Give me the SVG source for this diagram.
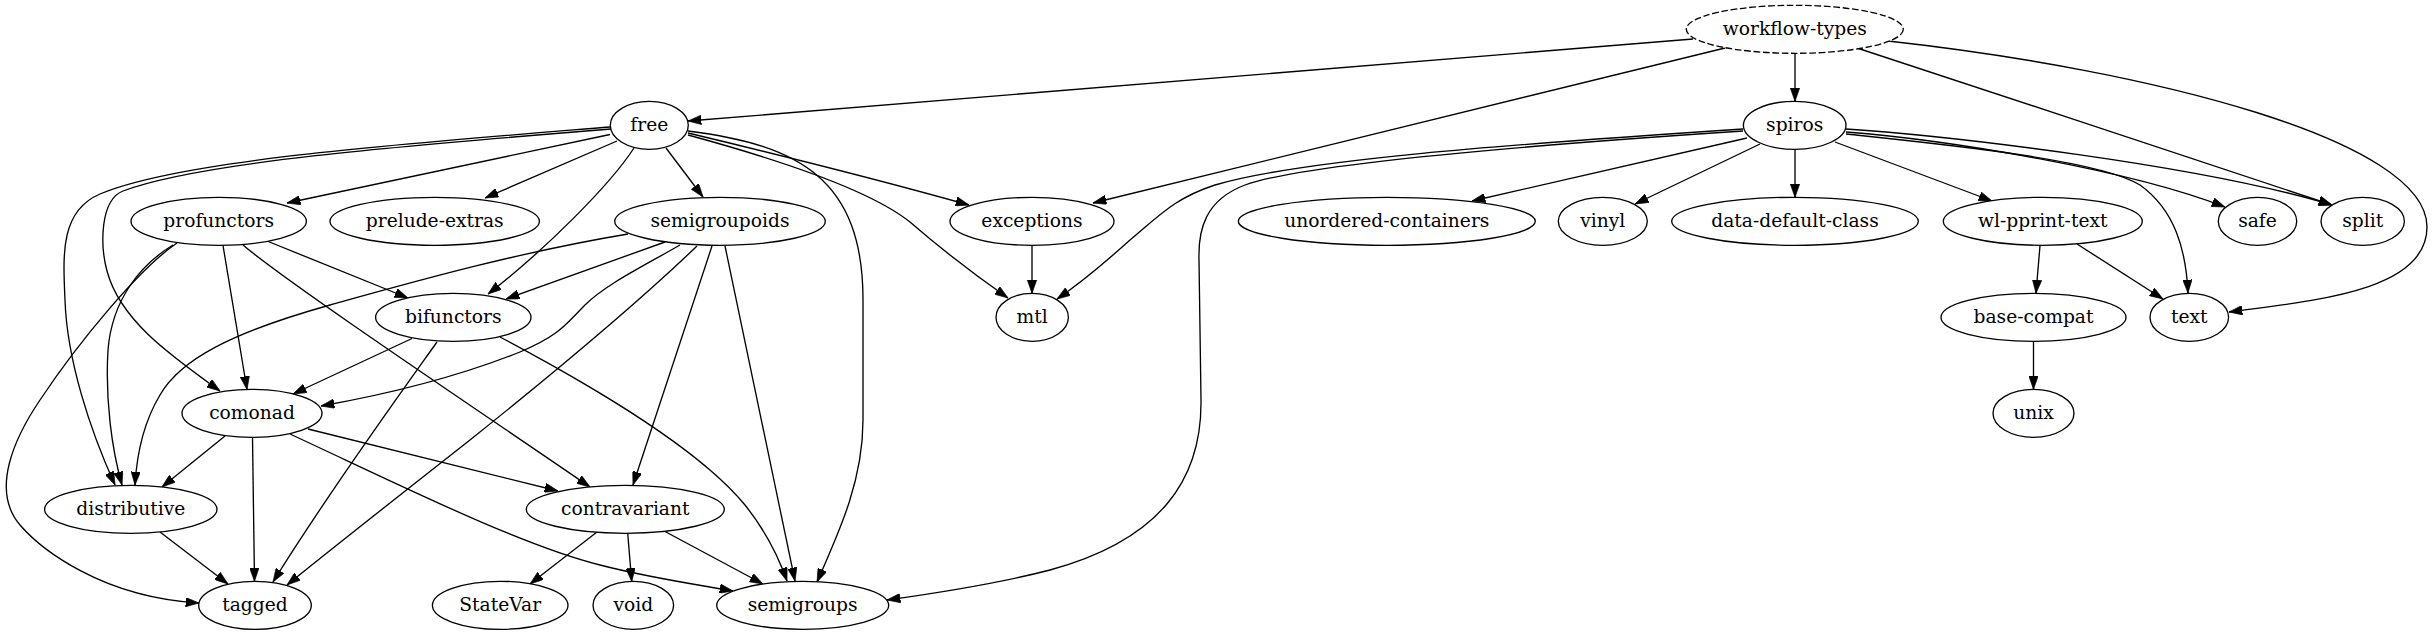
<svg xmlns="http://www.w3.org/2000/svg" width="2432" height="635" viewBox="0 0 2432 635">
<style>
.node ellipse{fill:#fff;stroke:#000;stroke-width:1.33}
.node text{font-family:"DejaVu Serif",serif;font-size:18.67px;text-anchor:middle;fill:#000}
.edges path{fill:none;stroke:#000;stroke-width:1.33;marker-end:url(#arr)}
.dashed ellipse{stroke-dasharray:6.67,2.67}
</style>
<defs>
<marker id="arr" viewBox="0 0 10 7" markerWidth="13.33" markerHeight="9.33" refX="10" refY="3.5" markerUnits="userSpaceOnUse" orient="auto">
<path d="M0,0 L10,3.5 L0,7 z" fill="#000" stroke="#000" stroke-width="0.5"/>
</marker>
</defs>
<rect width="2432" height="635" fill="#fff"/>
<g id="edges" class="edges">
<path d="M1693,39 L688,121"/>
<path d="M1725,48 L1093,203"/>
<path d="M1795,53.3 L1795,101.3"/>
<path d="M1857,48 C1990,92 2230,170 2332,205"/>
<path d="M1888,41 C2150,70 2427,140 2427,227 C2427,290 2320,300 2229,312"/>
<path d="M610,134.5 L287,203"/>
<path d="M617,141 L485,198"/>
<path d="M666,148 L703,197"/>
<path d="M634,148 C610,185 545,250 488,294"/>
<path d="M611,129 C400,146 200,162 123,191 C100,200 100,245 107,271 C120,320 170,355 220,391"/>
<path d="M610,127 C400,144 180,160 100,194 C60,211 63,255 65,300 C67,360 90,430 115,485"/>
<path d="M688,133 C780,155 880,180 969,205"/>
<path d="M688,135 C780,160 870,190 910,222 C940,248 975,275 1008,298"/>
<path d="M688,131 C800,145 863,180 863,300 L863,420 C863,480 840,530 817,582"/>
<path d="M1747,138 L1472,201"/>
<path d="M1760,144 L1635,204"/>
<path d="M1795,149.3 L1795,197.3"/>
<path d="M1835,142 L1992,201"/>
<path d="M1846,132 C1950,140 2130,170 2225,207"/>
<path d="M1846,129 C1950,136 2200,165 2332,205"/>
<path d="M1846,134 C1950,145 2100,160 2140,185 C2175,210 2186,250 2188,293"/>
<path d="M1743,129 C1500,145 1300,160 1215,185 C1175,198 1160,215 1130,240 C1110,258 1085,280 1057,299"/>
<path d="M1743,131 C1500,147 1300,165 1245,185 C1205,200 1198,230 1199,260 L1201,400 C1202,480 1160,540 1050,570 C1000,583 930,594 887,600"/>
<path d="M1032,245.3 L1032,293.3"/>
<path d="M2040,245.5 L2036,293.3"/>
<path d="M2077,244 L2163,299"/>
<path d="M2033.5,341.3 L2033.5,389.3"/>
<path d="M267,241 L408,298"/>
<path d="M223,245.5 L247,389.5"/>
<path d="M243,245 C290,285 500,425 590,487"/>
<path d="M173,245 C140,265 112,300 108,350 C105,400 112,450 122,485"/>
<path d="M177,243 C140,268 80,340 40,400 C15,437 -10,490 20,525 C40,548 100,597 199,603"/>
<path d="M665,242 L506,299"/>
<path d="M680,245 C640,268 605,285 585,305 C565,325 560,335 520,352 C470,372 400,392 321,406"/>
<path d="M628,234 C520,252 420,280 330,305 C230,333 180,360 160,395 C145,420 137,450 135,485"/>
<path d="M697,246 C620,320 520,400 470,440 C400,495 330,550 287,585"/>
<path d="M712,246 L633,485"/>
<path d="M725,246 L795,581"/>
<path d="M412,338.5 L293,394"/>
<path d="M437,342 C410,380 330,490 273,582"/>
<path d="M500,337 C600,390 700,450 745,505 C765,530 778,555 787,581"/>
<path d="M225,436 L162,487"/>
<path d="M252.5,437.3 L254.5,581.3"/>
<path d="M308,429 L558,491"/>
<path d="M290,434 C400,485 520,545 600,565 C650,578 700,585 733,591"/>
<path d="M160,532 L228,584"/>
<path d="M597,532 L530,584"/>
<path d="M627.7,533.3 L631.7,581.5"/>
<path d="M665,531.5 L763,584"/>
</g>
<g id="workflow-types" class="node dashed"><ellipse cx="1794.8" cy="29.3" rx="108.5" ry="24"/><text x="1794.8" y="34.9">workflow-types</text></g>
<g id="free" class="node"><ellipse cx="649.3" cy="125.3" rx="39" ry="24"/><text x="649.3" y="130.9">free</text></g>
<g id="spiros" class="node"><ellipse cx="1794.7" cy="125.3" rx="51.3" ry="24"/><text x="1794.7" y="130.9">spiros</text></g>
<g id="profunctors" class="node"><ellipse cx="218.7" cy="221.3" rx="87.7" ry="24"/><text x="218.7" y="226.9">profunctors</text></g>
<g id="prelude-extras" class="node"><ellipse cx="434.7" cy="221.3" rx="104.7" ry="24"/><text x="434.7" y="226.9">prelude-extras</text></g>
<g id="semigroupoids" class="node"><ellipse cx="720" cy="221.3" rx="105.3" ry="24"/><text x="720" y="226.9">semigroupoids</text></g>
<g id="exceptions" class="node"><ellipse cx="1032" cy="221.3" rx="82" ry="24"/><text x="1032" y="226.9">exceptions</text></g>
<g id="unordered-containers" class="node"><ellipse cx="1386.8" cy="221.3" rx="148.5" ry="24"/><text x="1386.8" y="226.9">unordered-containers</text></g>
<g id="vinyl" class="node"><ellipse cx="1602.8" cy="221.3" rx="44.5" ry="24"/><text x="1602.8" y="226.9">vinyl</text></g>
<g id="data-default-class" class="node"><ellipse cx="1795" cy="221.3" rx="123.3" ry="24"/><text x="1795" y="226.9">data-default-class</text></g>
<g id="wl-pprint-text" class="node"><ellipse cx="2042.8" cy="221.3" rx="99.5" ry="24"/><text x="2042.8" y="226.9">wl-pprint-text</text></g>
<g id="safe" class="node"><ellipse cx="2257.5" cy="221.3" rx="39.2" ry="24"/><text x="2257.5" y="226.9">safe</text></g>
<g id="split" class="node"><ellipse cx="2362.7" cy="221.3" rx="41.7" ry="24"/><text x="2362.7" y="226.9">split</text></g>
<g id="bifunctors" class="node"><ellipse cx="453.3" cy="317.3" rx="77.7" ry="24"/><text x="453.3" y="322.9">bifunctors</text></g>
<g id="mtl" class="node"><ellipse cx="1032.2" cy="317.3" rx="36.2" ry="24"/><text x="1032.2" y="322.9">mtl</text></g>
<g id="base-compat" class="node"><ellipse cx="2033.5" cy="317.3" rx="92.5" ry="24"/><text x="2033.5" y="322.9">base-compat</text></g>
<g id="text" class="node"><ellipse cx="2189.3" cy="317.3" rx="39.3" ry="24"/><text x="2189.3" y="322.9">text</text></g>
<g id="comonad" class="node"><ellipse cx="252" cy="413.3" rx="70" ry="24"/><text x="252" y="418.9">comonad</text></g>
<g id="unix" class="node"><ellipse cx="2033.5" cy="413.3" rx="40.5" ry="24"/><text x="2033.5" y="418.9">unix</text></g>
<g id="distributive" class="node"><ellipse cx="130.8" cy="509.3" rx="86.2" ry="24"/><text x="130.8" y="514.9">distributive</text></g>
<g id="contravariant" class="node"><ellipse cx="625.3" cy="509.3" rx="99" ry="24"/><text x="625.3" y="514.9">contravariant</text></g>
<g id="tagged" class="node"><ellipse cx="255" cy="605.3" rx="56.3" ry="24"/><text x="255" y="610.9">tagged</text></g>
<g id="StateVar" class="node"><ellipse cx="500.2" cy="605.3" rx="67.8" ry="24"/><text x="500.2" y="610.9">StateVar</text></g>
<g id="void" class="node"><ellipse cx="633.3" cy="605.3" rx="40.3" ry="24"/><text x="633.3" y="610.9">void</text></g>
<g id="semigroups" class="node"><ellipse cx="802.7" cy="605.3" rx="86" ry="24"/><text x="802.7" y="610.9">semigroups</text></g>
</svg>
